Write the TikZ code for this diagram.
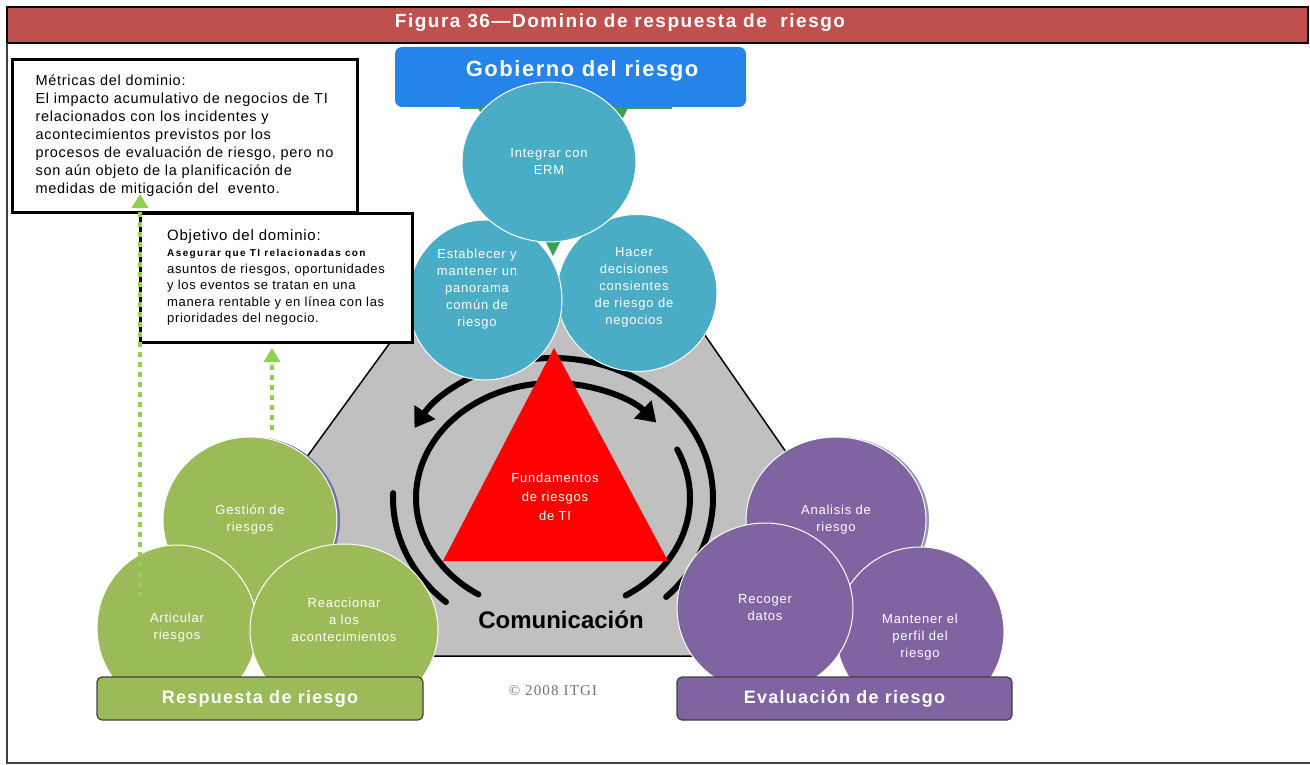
\documentclass[tikz,border=0pt]{standalone}
\usepackage{fontspec}
\setmainfont{Liberation Sans}
\newfontfamily\copyfont{Liberation Serif}
\usetikzlibrary{shapes.geometric,arrows.meta}

\definecolor{titlered}{HTML}{C0504D}
\definecolor{govblue}{HTML}{2584EA}
\definecolor{bluec}{HTML}{4BACC6}
\definecolor{greenc}{HTML}{9BBB59}
\definecolor{purplec}{HTML}{8064A2}
\definecolor{dotgreen}{HTML}{92D050}
\definecolor{trigreen}{HTML}{3C9F4F}
\definecolor{hexgray}{HTML}{C0C0C0}
\definecolor{framegray}{HTML}{404040}
\definecolor{rimblue}{HTML}{6D6FA8}
\definecolor{rimgray}{HTML}{9A95B0}

\begin{document}
\begin{tikzpicture}[x=1pt,y=-1pt,
    blob/.style={ellipse,draw=white,line width=1pt,inner sep=0pt},
    blobtext/.style={text=white,align=center,inner sep=0pt,
      font=\fontsize{13}{17}\selectfont\addfontfeature{LetterSpace=6}},
    bandbox/.style={rounded corners=5pt,draw=framegray,line width=1.2pt,
      minimum height=43pt,text=white,
      font=\bfseries\fontsize{18}{22}\selectfont\addfontfeature{LetterSpace=7}},
    infobox/.style={draw,line width=3pt,fill=white,align=left,inner sep=0pt},
    commarc/.style={line width=6pt,line cap=round},
    commtip/.style={-{Triangle[width=24pt,length=19pt]}},
    dotarrow/.style={dotgreen,line width=4.5pt,dash pattern=on 5pt off 5pt,
      -{Triangle[width=16pt,length=14pt]}}]

  \useasboundingbox (0,0) rectangle (1310,765);

  % marco y título
  \fill[titlered] (7,7) rectangle (1308,43);
  \draw[line width=1.5pt] (7,7) rectangle (1308,43);
  \draw[framegray,line width=2pt] (7,43) -- (7,763) -- (1310,763);
  \node[text=white,font=\bfseries\fontsize{19}{23}\selectfont\addfontfeature{LetterSpace=8}]
    (titulo) at (620,23) {Figura 36—Dominio de respuesta de\ \ riesgo};

  % hexágono gris
  \filldraw[fill=hexgray,line width=1.5pt] (408,318) -- (693,318) -- (795,465)
    -- (745,656) -- (360,656) -- (301,465) -- cycle;

  % flechas de comunicación
  \coordinate (ring) at (553,498);
  \draw[commarc,commtip] (ring) ++(-45:160pt and 140pt)
    arc[start angle=-45,end angle=150,x radius=160pt,y radius=140pt];
  \draw[commarc] (ring) ++(178:160pt and 140pt)
    arc[start angle=178,end angle=228,x radius=160pt,y radius=140pt];
  \draw[commarc,commtip] (ring) ++(237:137pt and 115pt)
    arc[start angle=237,end angle=41,x radius=137pt,y radius=115pt];
  \draw[commarc] (ring) ++(25:137pt and 115pt)
    arc[start angle=25,end angle=-58,x radius=137pt,y radius=115pt];

  % triángulo rojo
  \fill[red] (554,348) -- (668,561) -- (443,561) -- cycle;
  \node[blobtext,font=\fontsize{13}{19}\selectfont\addfontfeature{LetterSpace=6}]
    (fundamentos) at (555,497) {Fundamentos\\de riesgos\\de TI};
  \node[font=\bfseries\fontsize{24}{28}\selectfont] (comunicacion) at (561,620) {Comunicación};
  \node[text=black!55,font=\copyfont\fontsize{15}{18}\selectfont\addfontfeature{LetterSpace=8}]
    (copyright) at (553,691) {© 2008 ITGI};

  % gobierno del riesgo
  \fill[trigreen] (460,100) rectangle (672,109);
  \fill[trigreen] (478,108) -- (628,108) -- (553,256) -- cycle;
  \node[rounded corners=7pt,fill=govblue,minimum width=351pt,minimum height=60pt]
    (gobierno) at (570.5,77) {};
  \node[text=white,font=\bfseries\fontsize{22}{26}\selectfont\addfontfeature{LetterSpace=7}]
    (gobierno-t) at (582,71) {Gobierno del riesgo};
  \node[blob,fill=bluec,minimum width=160pt,minimum height=157pt,
    label={[blobtext,xshift=-3pt,yshift=6pt]center:{Hacer\\decisiones\\consientes\\de riesgo de\\negocios}}]
    (hacer) at (637,293) {};
  \node[blob,fill=bluec,minimum width=154pt,minimum height=160pt,
    label={[blobtext,xshift=-8pt,yshift=11pt]center:{Establecer y\\mantener un\\panorama\\común de\\riesgo}}]
    (establecer) at (485,300) {};
  \node[blob,fill=bluec,minimum width=174pt,minimum height=160pt,
    label={[blobtext]center:{Integrar con\\ERM}}]
    (integrar) at (549,162) {};

  % respuesta de riesgo
  \fill[rimblue] (253,520) ellipse[x radius=87pt,y radius=83pt];
  \node[blob,fill=greenc,minimum width=174pt,minimum height=166pt,
    label={[blobtext]center:{Gestión de\\riesgos}}]
    (gestion) at (250,520) {};
  \node[blob,fill=greenc,minimum width=160pt,minimum height=166pt,
    label={[blobtext]center:{Articular\\riesgos}}]
    (articular) at (177,628) {};
  \node[blob,fill=greenc,minimum width=188pt,minimum height=172pt,
    label={[blobtext,yshift=10pt]center:{Reaccionar\\a los\\acontecimientos}}]
    (reaccionar) at (344,630) {};
  \node[bandbox,fill=greenc,minimum width=326pt] (respuesta) at (260,698.5) {Respuesta de riesgo};

  % evaluación de riesgo
  \fill[rimgray] (839,520) ellipse[x radius=90pt,y radius=83pt];
  \node[blob,fill=purplec,minimum width=180pt,minimum height=166pt,
    label={[blobtext]center:{Analisis de\\riesgo}}]
    (analisis) at (836,520) {};
  \node[blob,fill=purplec,minimum width=168pt,minimum height=170pt,
    label={[blobtext,yshift=-5pt]center:{Mantener el\\perfil del\\riesgo}}]
    (mantener) at (920,632) {};
  \node[blob,fill=purplec,minimum width=176pt,minimum height=170pt,
    label={[blobtext]center:{Recoger\\datos}}]
    (recoger) at (765,608) {};
  \node[bandbox,fill=purplec,minimum width=335pt] (evaluacion) at (844.5,698.5) {Evaluación de riesgo};

  % cuadros de texto
  \node[infobox,minimum width=345pt,minimum height=152pt,
    font=\fontsize{14.5}{18}\selectfont\addfontfeature{LetterSpace=5}]
    (metricas) at (184.5,136) {Métricas del dominio:\\
      El impacto acumulativo de negocios de TI\\
      relacionados con los incidentes y\\
      acontecimientos previstos por los\\
      procesos de evaluación de riesgo, pero no\\
      son aún objeto de la planificación de\\
      medidas de mitigación del\ \ evento.};
  \node[infobox,minimum width=272pt,minimum height=129pt,
    font=\fontsize{13}{16.5}\selectfont\addfontfeature{LetterSpace=5}]
    (objetivo) at (276,277.5) {{\fontsize{15}{18}\selectfont Objetivo del dominio:}\\
      {\bfseries\fontsize{10}{17}\selectfont\addfontfeature{LetterSpace=14}Asegurar que TI relacionadas con}\\
      asuntos de riesgos, oportunidades\\
      y los eventos se tratan en una\\
      manera rentable y en línea con las\\
      prioridades del negocio.};

  % flechas punteadas
  \coordinate (art-pie) at (140,597);
  \coordinate (met-punta) at (140,194);
  \coordinate (ges-pie) at (272,430);
  \coordinate (obj-punta) at (272,348);
  \draw[dotarrow] (art-pie) -- (met-punta);
  \draw[dotarrow] (ges-pie) -- (obj-punta);

\end{tikzpicture}
\end{document}
